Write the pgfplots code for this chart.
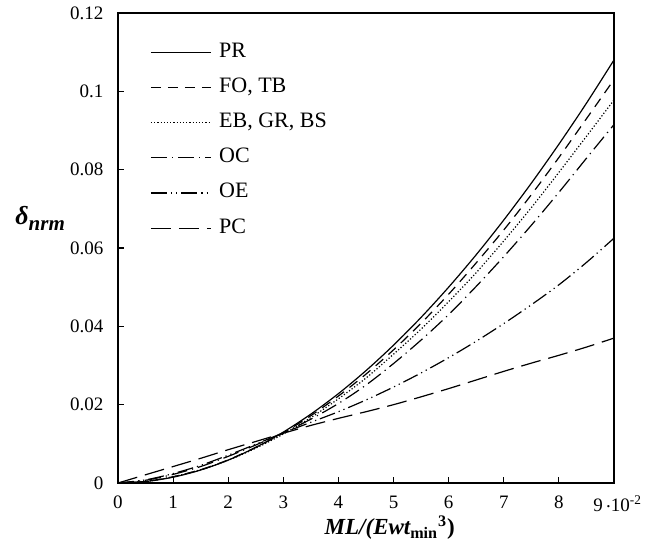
\documentclass[border=0pt]{standalone}
\usepackage{fontspec}
\setmainfont{Liberation Serif}
\usepackage{pgfplots}
\pgfplotsset{compat=1.18}

\begin{document}
\begin{tikzpicture}
% frame of the page, in reference pixels (1 px = 0.5 pt), axis corner at (0,0)
\useasboundingbox (-59pt,-33pt) rectangle (264.5pt,241.5pt);
\begin{axis}[
  scale only axis, width=248pt, height=235pt,
  xmin=0, xmax=9, ymin=0, ymax=0.12,
  xtick={0,1,...,9}, xticklabels={0,1,2,3,4,5,6,7,8,{}},
  ytick={0,0.02,0.04,0.06,0.08,0.1,0.12},
  scaled y ticks=false,
  yticklabel style={/pgf/number format/fixed, /pgf/number format/precision=2, xshift=-3.8pt},
  xticklabel style={yshift=-2.8pt},
  /pgf/number format/assume math mode=true,
  tick label style={font=\fontsize{9.5}{11}\selectfont},
  tick align=inside, major tick length=3pt,
  xtick pos=bottom, ytick pos=left,
  axis line style={line width=0.9pt}, every tick/.style={black, line width=0.6pt},
  clip=false,
  every axis plot/.append style={black, mark=none, line width=0.6pt, smooth,
    legend image code/.code={\draw[##1] (0pt,0pt) -- (30pt,0pt);}},
  legend cell align=left,
  legend style={draw=none, fill=none, inner sep=0pt, row sep=0pt,
    at={(rel axis cs:0.0645,0.955)}, anchor=north west,
    font=\fontsize{11}{13}\selectfont,
    nodes={inner sep=3.8pt, text height=7.5pt, text depth=2.5pt}},
]
\addplot[solid] coordinates {
(0,0)(0.5,0.00037)(1,0.00148)(1.5,0.00331)(2,0.00585)(2.5,0.00909)(3,0.0130)
(3.5,0.01759)(4,0.02282)(4.5,0.02869)(5,0.03519)(5.5,0.04229)(6,0.0500)
(6.5,0.05828)(7,0.06714)(7.5,0.07654)(8,0.08649)(8.5,0.09696)(9,0.1080)};
\addlegendentry{PR}
\addplot[dash pattern=on 5pt off 3.5pt] coordinates {
(0,0)(0.5,0.0004)(1,0.0016)(1.5,0.0034)(2,0.0059)(2.5,0.0091)(3,0.0128)
(3.5,0.0172)(4,0.0222)(4.5,0.0278)(5,0.0340)(5.5,0.0408)(6,0.0482)
(6.5,0.0562)(7,0.0646)(7.5,0.0736)(8,0.0831)(8.5,0.0930)(9,0.1030)};
\addlegendentry{FO, TB}
\addplot[dash pattern=on 0.6pt off 1pt] coordinates {
(0,0)(0.5,0.0004)(1,0.0016)(1.5,0.0034)(2,0.0058)(2.5,0.0089)(3,0.0125)
(3.5,0.0167)(4,0.0215)(4.5,0.0268)(5,0.0329)(5.5,0.0393)(6,0.0463)
(6.5,0.0537)(7,0.0618)(7.5,0.0703)(8,0.0793)(8.5,0.0885)(9,0.0978)};
\addlegendentry{EB, GR, BS}
\addplot[dash pattern=on 8pt off 2.5pt on 0.6pt off 2.5pt] coordinates {
(0,0)(0.5,0.0007)(1,0.0022)(1.5,0.0042)(2,0.0068)(2.5,0.0097)(3,0.0128)
(3.5,0.0163)(4,0.0203)(4.5,0.0250)(5,0.0305)(5.5,0.0365)(6,0.0430)
(6.5,0.0502)(7,0.0578)(7.5,0.0658)(8,0.0742)(8.5,0.0829)(9,0.0915)};
\addlegendentry{OC}
\addplot[dash pattern=on 8pt off 2pt on 0.6pt off 2pt on 0.6pt off 2pt] coordinates {
(0,0)(0.5,0.0008)(1,0.0024)(1.5,0.0045)(2,0.0071)(2.5,0.0099)(3,0.0128)
(3.5,0.0155)(4,0.0182)(4.5,0.0212)(5,0.0245)(5.5,0.0281)(6,0.0320)
(6.5,0.0362)(7,0.0407)(7.5,0.0455)(8,0.0506)(8.5,0.0563)(9,0.0625)};
\addlegendentry{OE}
\addplot[dash pattern=on 10pt off 4pt] coordinates {
(0,0)(0.5,0.0021)(1,0.0042)(1.5,0.0063)(2,0.0085)(2.5,0.0106)(3,0.0127)
(3.5,0.0147)(4,0.0165)(4.5,0.0182)(5,0.0200)(5.5,0.0220)(6,0.0241)
(6.5,0.0263)(7,0.0285)(7.5,0.0306)(8,0.0326)(8.5,0.0347)(9,0.0370)};
\addlegendentry{PC}
% last tick label with the scale factor
\node[anchor=north west, inner sep=0pt, font=\fontsize{9.5}{11}\selectfont]
  at (rel axis cs:0.9577,-0.0255) {9\,\raisebox{0.45ex}{.}10\textsuperscript{-2}};
% axis labels
\node[anchor=base west, inner sep=0pt] at (rel axis cs:-0.2077,0.549)
  {\fontsize{13}{15}\selectfont\bfseries\itshape δ\raisebox{-0.45ex}{\fontsize{10.5}{12}\selectfont nrm}};
\node[anchor=base, inner sep=0pt] at (rel axis cs:0.548,-0.1106)
  {\fontsize{11.5}{13}\selectfont\bfseries\itshape ML/(Ewt\textsubscript{\upshape min}\textsuperscript{\upshape 3}\upshape )};
\end{axis}
\end{tikzpicture}
\end{document}
